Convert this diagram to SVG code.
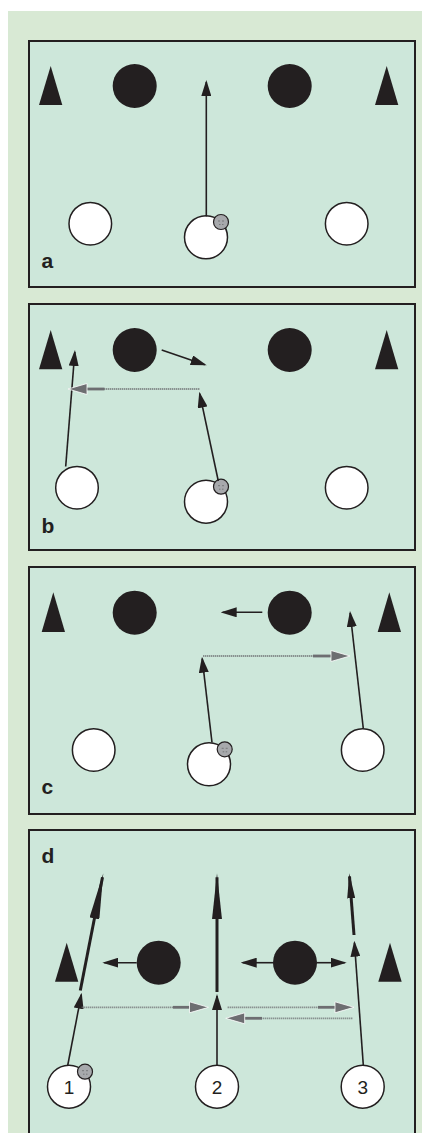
<svg xmlns="http://www.w3.org/2000/svg" width="422" height="1133" viewBox="0 0 422 1133">
  <style>
    .field { fill: #cde7da; stroke: #231f20; stroke-width: 2; }
    .cone { fill: #231f20; }
    .def { fill: #231f20; }
    .att { fill: #ffffff; stroke: #231f20; stroke-width: 1.5; }
    .ball { fill: #a7a9ac; stroke: #231f20; stroke-width: 1.2; }
    .seam { fill: none; stroke: #58595b; stroke-width: 0.6; }
    .run { fill: none; stroke: #231f20; stroke-width: 1.6; marker-end: url(#head); }
    .drive { fill: none; stroke: #231f20; stroke-width: 3; }
    .pass { fill: none; stroke: #6d6e71; stroke-width: 1.8; stroke-dasharray: 1 1; }
    .passend { fill: none; stroke: #6d6e71; stroke-width: 2.8; marker-end: url(#ghead); }
    .lbl { font-family: "Liberation Sans Narrow", "Liberation Sans", Arial, sans-serif; font-weight: bold; font-size: 21px; fill: #231f20; }
    .num { font-family: "Liberation Sans", Arial, sans-serif; font-size: 19px; fill: #231f20; text-anchor: middle; }
  </style>
  <defs>
    <marker id="head" viewBox="0 0 16 10" markerWidth="16" markerHeight="10" refX="14" refY="5" orient="auto" markerUnits="userSpaceOnUse">
      <path d="M0,0 L16,5 L0,10 z" fill="#231f20"/>
    </marker>
    <marker id="longhead" viewBox="0 0 46 10" markerWidth="46" markerHeight="10" refX="42" refY="5" orient="auto" markerUnits="userSpaceOnUse">
      <path d="M0,0 L46,5 L0,10 z" fill="#231f20"/>
    </marker>
    <marker id="midhead" viewBox="0 0 25 8" markerWidth="25" markerHeight="8" refX="22" refY="4" orient="auto" markerUnits="userSpaceOnUse">
      <path d="M0,0 L25,4 L0,8 z" fill="#231f20"/>
    </marker>
    <marker id="ghead" viewBox="-1 -1 21 13" markerWidth="21" markerHeight="13" refX="0" refY="5.5" orient="auto" markerUnits="userSpaceOnUse">
      <path d="M0,0 L19,5.5 L0,11 z" fill="#6d6e71" stroke="#ffffff" stroke-width="0.8" stroke-linejoin="miter"/>
    </marker>
    <g id="ballshape">
      <circle r="7.5" class="ball"/>
      <path class="seam" d="M-3,-1 h2 M1,-1 h2 M-2,2.5 h1.5 M1,2.5 h1.5"/>
    </g>
  </defs>

  <!-- page background -->
  <rect x="0" y="0" width="422" height="1133" fill="#ffffff"/>
  <rect x="8" y="11" width="414" height="1122" fill="#d8e9d4"/>

  <!-- panel a -->
  <g id="panel-a">
    <rect class="field" x="29" y="41" width="386" height="246"/>
    <polygon id="a-cone-l" class="cone" points="50.7,66 62.3,105 39,105"/>
    <polygon id="a-cone-r" class="cone" points="386.7,66 398.3,105 375,105"/>
    <circle id="a-def-1" class="def" cx="134.7" cy="86" r="22"/>
    <circle id="a-def-2" class="def" cx="289.7" cy="86" r="22"/>
    <circle id="a-att-1" class="att" cx="90.3" cy="223.7" r="21.3"/>
    <circle id="a-att-2" class="att" cx="206" cy="237.3" r="21.5"/>
    <circle id="a-att-3" class="att" cx="346.7" cy="223.7" r="21.3"/>
    <use id="a-ball" href="#ballshape" x="221" y="222"/>
    <text class="lbl" x="41.5" y="267.5">a</text>
  </g>

  <!-- panel b -->
  <g id="panel-b">
    <rect class="field" x="29" y="304" width="386" height="246"/>
    <polygon id="b-cone-l" class="cone" points="50.7,330 62.3,369.3 39,369.3"/>
    <polygon id="b-cone-r" class="cone" points="386.7,330 398.3,369.3 375,369.3"/>
    <circle id="b-def-1" class="def" cx="134.7" cy="350" r="22"/>
    <circle id="b-def-2" class="def" cx="289.7" cy="350" r="22"/>
    <circle id="b-att-1" class="att" cx="77" cy="487.7" r="21.3"/>
    <circle id="b-att-2" class="att" cx="206" cy="501.7" r="21.5"/>
    <circle id="b-att-3" class="att" cx="346.7" cy="487.7" r="21.3"/>
    <use id="b-ball" href="#ballshape" x="221" y="486.7"/>
    <text class="lbl" x="41.5" y="533">b</text>
  </g>

  <!-- panel c -->
  <g id="panel-c">
    <rect class="field" x="29" y="567" width="386" height="247"/>
    <polygon id="c-cone-l" class="cone" points="53.3,592.3 65,632 41.7,632"/>
    <polygon id="c-cone-r" class="cone" points="389.3,592.3 401,632 377.7,632"/>
    <circle id="c-def-1" class="def" cx="134.7" cy="612.7" r="22"/>
    <circle id="c-def-2" class="def" cx="289.7" cy="612.7" r="22"/>
    <circle id="c-att-1" class="att" cx="93.7" cy="750" r="21.3"/>
    <circle id="c-att-2" class="att" cx="209" cy="764.3" r="21.5"/>
    <circle id="c-att-3" class="att" cx="362.7" cy="750" r="21.3"/>
    <use id="c-ball" href="#ballshape" x="224.7" y="749.3"/>
    <text class="lbl" x="41.5" y="794">c</text>
  </g>

  <!-- panel d -->
  <g id="panel-d">
    <rect class="field" x="29" y="830" width="386" height="330"/>
    <polygon id="d-cone-l" class="cone" points="66.7,942.7 78.3,981.7 55,981.7"/>
    <polygon id="d-cone-r" class="cone" points="390,942.7 401.7,981.7 378.3,981.7"/>
    <circle id="d-def-1" class="def" cx="158.7" cy="962.7" r="22"/>
    <circle id="d-def-2" class="def" cx="295" cy="962.7" r="22"/>
    <g id="d-att-1">
      <circle class="att" cx="69" cy="1086.7" r="21.5"/>
      <text class="num" x="69" y="1093.5">1</text>
    </g>
    <g id="d-att-2">
      <circle class="att" cx="217" cy="1086.7" r="21.5"/>
      <text class="num" x="217" y="1093.5">2</text>
    </g>
    <g id="d-att-3">
      <circle class="att" cx="362.7" cy="1086.7" r="21.5"/>
      <text class="num" x="362.7" y="1093.5">3</text>
    </g>
    <use id="d-ball" href="#ballshape" x="85" y="1071.7"/>
    <text class="lbl" x="41.5" y="863">d</text>
  </g>

  <!-- movement and passing lines -->
  <g id="connectors">
    <!-- a -->
    <line class="run" x1="206.3" y1="216.5" x2="206.3" y2="82"/>

    <!-- b -->
    <line class="run" x1="161.7" y1="350" x2="204.8" y2="364.7"/>
    <line class="run" x1="65.7" y1="466.5" x2="74.8" y2="352"/>
    <line class="run" x1="218.3" y1="481" x2="199.7" y2="393.7"/>
    <line class="pass" x1="199.3" y1="389" x2="104" y2="389"/>
    <line class="passend" x1="104.5" y1="389" x2="87" y2="389"/>

    <!-- c -->
    <line class="run" x1="262.3" y1="612.3" x2="222.7" y2="612.3"/>
    <line class="run" x1="212" y1="742.5" x2="202.2" y2="658.7"/>
    <line class="run" x1="363.3" y1="728.5" x2="350.2" y2="613"/>
    <line class="pass" x1="203.3" y1="656" x2="313.5" y2="656"/>
    <line class="passend" x1="313" y1="656" x2="331" y2="656"/>

    <!-- d: defenders stepping out -->
    <line class="run" x1="136.7" y1="962.7" x2="104.3" y2="962.7"/>
    <line class="run" x1="273.3" y1="962.7" x2="242.7" y2="962.7"/>
    <line class="run" x1="316.7" y1="962.7" x2="344.7" y2="962.7"/>

    <!-- d: attackers' support runs -->
    <line class="run" x1="67.7" y1="1065.5" x2="81.3" y2="994.7"/>
    <line class="run" x1="217" y1="1065" x2="217" y2="996"/>
    <line class="run" x1="363.3" y1="1065" x2="354.45" y2="942.7"/>

    <!-- d: forward drives -->
    <line class="drive" x1="80.3" y1="990.5" x2="102.5" y2="877.2" marker-end="url(#longhead)"/>
    <line class="drive" x1="217" y1="992" x2="217" y2="877.3" marker-end="url(#longhead)"/>
    <line class="drive" x1="354" y1="935" x2="349.5" y2="876.3" marker-end="url(#midhead)"/>

    <!-- d: passes -->
    <line class="pass" x1="81.7" y1="1007.3" x2="173.5" y2="1007.3"/>
    <line class="passend" x1="173" y1="1007.3" x2="189.5" y2="1007.3"/>
    <line class="pass" x1="227.7" y1="1007.3" x2="318.5" y2="1007.3"/>
    <line class="passend" x1="318" y1="1007.3" x2="335" y2="1007.3"/>
    <line class="pass" x1="352.3" y1="1018.3" x2="261.5" y2="1018.3"/>
    <line class="passend" x1="262" y1="1018.3" x2="244.7" y2="1018.3"/>
  </g>
</svg>
